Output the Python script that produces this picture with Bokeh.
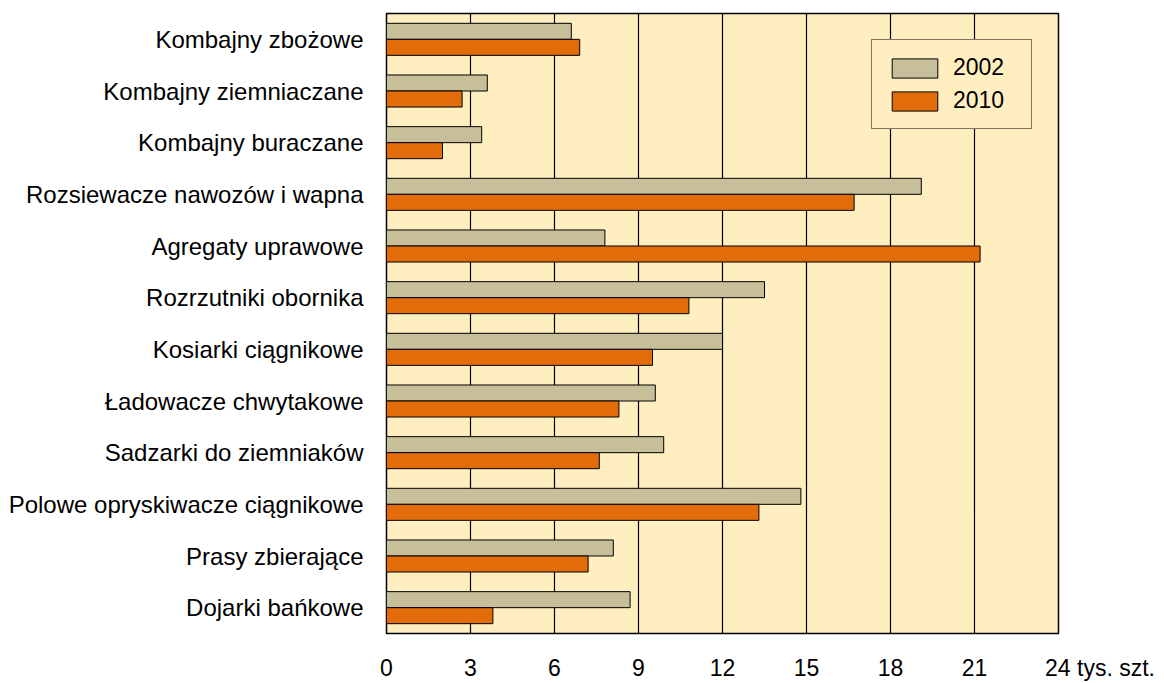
from bokeh.plotting import figure
from bokeh.models import ColumnDataSource, FactorRange, FixedTicker, Legend, LegendItem
from bokeh.transform import dodge
from bokeh.embed import file_html
from bokeh.resources import INLINE

categories = [
    "Kombajny zbożowe",
    "Kombajny ziemniaczane",
    "Kombajny buraczane",
    "Rozsiewacze nawozów i wapna",
    "Agregaty uprawowe",
    "Rozrzutniki obornika",
    "Kosiarki ciągnikowe",
    "Ładowacze chwytakowe",
    "Sadzarki do ziemniaków",
    "Polowe opryskiwacze ciągnikowe",
    "Prasy zbierające",
    "Dojarki bańkowe",
]
v2002 = [6.6, 3.6, 3.4, 19.1, 7.8, 13.5, 12.0, 9.6, 9.9, 14.8, 8.1, 8.7]
v2010 = [6.9, 2.7, 2.0, 16.7, 21.2, 10.8, 9.5, 8.3, 7.6, 13.3, 7.2, 3.8]
series = ["2002", "2010"]
x_ticks = [0, 3, 6, 9, 12, 15, 18, 21, 24]
unit_label = "tys. szt."

FONT = "Liberation Sans"
BG = "#FFEEC0"
C2002 = "#C6BF9A"
C2010 = "#E36C0A"

source = ColumnDataSource(dict(cat=categories, v2002=v2002, v2010=v2010))

p = figure(
    width=1164, height=683,
    x_range=(0, 24),
    y_range=FactorRange(*list(reversed(categories))),
    output_backend="svg", toolbar_location=None,
    min_border_left=386, min_border_right=106, min_border_top=13, min_border_bottom=41,
)
p.background_fill_color = BG
p.border_fill_color = "white"
p.outline_line_color = "black"
p.outline_line_width = 1.5

p.xgrid.ticker = FixedTicker(ticks=x_ticks)
p.xgrid.grid_line_color = "black"
p.xgrid.grid_line_width = 1.2
p.ygrid.grid_line_color = None

h = 0.31
r1 = p.hbar(y=dodge("cat", h / 2, range=p.y_range), right="v2002", left=0, height=h,
            source=source, fill_color=C2002, line_color="black", line_width=1)
r2 = p.hbar(y=dodge("cat", -h / 2, range=p.y_range), right="v2010", left=0, height=h,
            source=source, fill_color=C2010, line_color="black", line_width=1)

xa = p.xaxis[0]
xa.ticker = FixedTicker(ticks=x_ticks)
# last tick carries the unit; leading no-break spaces keep "24" centred on its tick
xa.major_label_overrides = {x_ticks[-1]: "\u00a0" * 13 + f"{x_ticks[-1]} {unit_label}"}
xa.axis_line_color = None
xa.major_tick_line_color = None
xa.minor_tick_line_color = None
xa.major_label_text_font = FONT
xa.major_label_text_font_size = "23px"
xa.major_label_text_color = "black"
xa.major_label_standoff = 15

ya = p.yaxis[0]
ya.axis_line_color = None
ya.major_tick_line_color = None
ya.minor_tick_line_color = None
ya.major_label_text_font = FONT
ya.major_label_text_font_size = "24px"
ya.major_label_text_color = "black"
ya.major_label_standoff = 17

legend = Legend(
    items=[LegendItem(label=series[0], renderers=[r1]),
           LegendItem(label=series[1], renderers=[r2])],
    location=(485, 504),
    label_text_font=FONT, label_text_font_size="23px", label_text_color="black",
    glyph_width=57, glyph_height=24, label_standoff=10, label_width=64,
    spacing=6, padding=14, margin=0,
    border_line_color="black", border_line_width=1,
    background_fill_color=BG, background_fill_alpha=1.0,
)
p.add_layout(legend)

open("out.html", "w").write(file_html(p, INLINE))
